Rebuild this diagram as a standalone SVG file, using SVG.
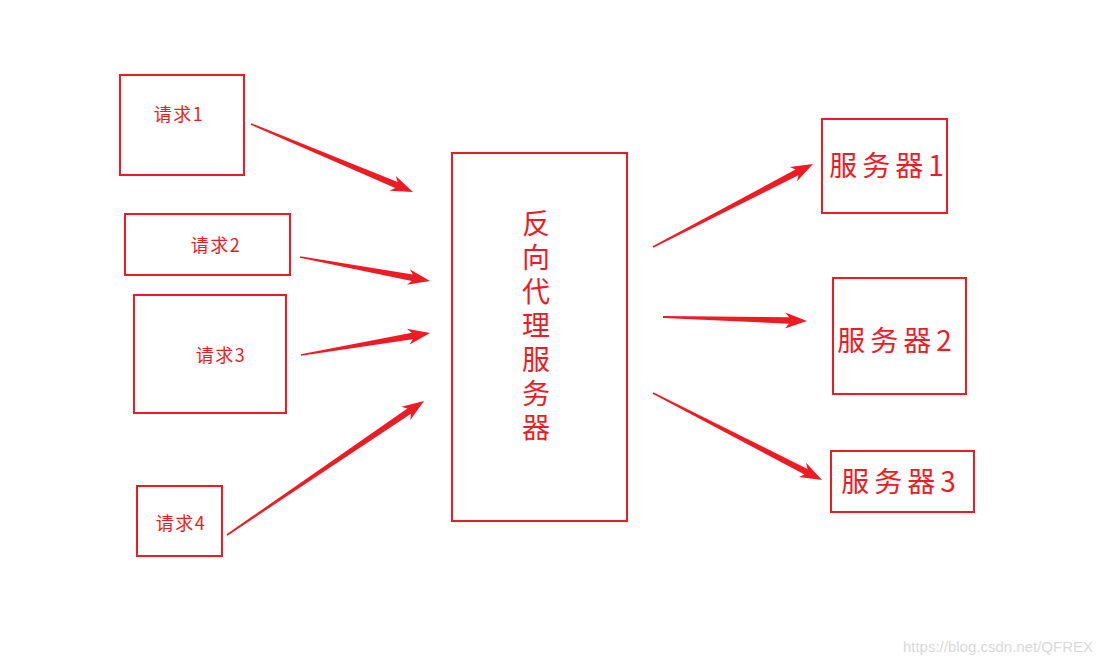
<svg xmlns="http://www.w3.org/2000/svg" width="1102" height="663" viewBox="0 0 1102 663">
<style>
.box{fill:none;stroke:#ed1c24;stroke-width:2}
.t{fill:#ed1c24;font-family:"Noto Sans CJK SC","Noto Sans",sans-serif;text-anchor:middle}
.s{font-size:18px;letter-spacing:1.5px}
.b{font-size:28px;letter-spacing:5px}
.v{font-size:28px;letter-spacing:6px;writing-mode:vertical-rl;text-anchor:start}
.arr{fill:#ed1c24}
.wm{fill:#d9d9d9;font-family:"Liberation Sans",Arial,sans-serif;font-size:15px;text-anchor:end}
</style>
<rect width="1102" height="663" fill="#ffffff"/>
<g id="req1"><rect class="box" x="120" y="75" width="124" height="100"/><text class="t s" x="179" y="121">请求1</text></g>
<g id="req2"><rect class="box" x="125" y="214" width="165" height="61"/><text class="t s" x="216" y="252">请求2</text></g>
<g id="req3"><rect class="box" x="134" y="295" width="152" height="118"/><text class="t s" x="221" y="362">请求3</text></g>
<g id="req4"><rect class="box" x="137" y="486" width="85" height="70"/><text class="t s" x="181" y="530">请求4</text></g>
<g id="proxy"><rect class="box" x="452" y="153" width="175" height="368"/>
<text class="t v" x="536" y="209">反向代理服务器</text>
</g>
<g id="srv1"><rect class="box" x="822" y="119" width="125" height="94"/><text class="t b" x="889" y="176">服务器1</text></g>
<g id="srv2"><rect class="box" x="833" y="278" width="133" height="116"/><text class="t b" x="897" y="351">服务器2</text></g>
<g id="srv3"><rect class="box" x="831" y="451" width="143" height="61"/><text class="t b" x="901" y="492">服务器3</text></g>
<g id="connectors">
<polygon class="arr" transform="translate(251,124) rotate(22.77)" points="0,-0.8 157.7,-3.2 153.7,-8 175.7,0 153.7,8 157.7,3.2 0,0.8"/>
<polygon class="arr" transform="translate(300,257) rotate(10.46)" points="0,-0.8 114.2,-3.2 110.2,-8 132.2,0 110.2,8 114.2,3.2 0,0.8"/>
<polygon class="arr" transform="translate(301,355) rotate(-9.68)" points="0,-0.8 112.9,-3.2 108.9,-8 130.9,0 108.9,8 112.9,3.2 0,0.8"/>
<polygon class="arr" transform="translate(227,535) rotate(-34.22)" points="0,-0.8 220.3,-3.2 216.3,-8 238.3,0 216.3,8 220.3,3.2 0,0.8"/>
<polygon class="arr" transform="translate(653,247) rotate(-27.42)" points="0,-0.8 162.2,-3.2 158.2,-8 180.2,0 158.2,8 162.2,3.2 0,0.8"/>
<polygon class="arr" transform="translate(663,317) rotate(1.59)" points="0,-1 126.1,-3.2 122.1,-8 144.1,0 122.1,8 126.1,3.2 0,1"/>
<polygon class="arr" transform="translate(653,393) rotate(27.24)" points="0,-0.8 172.1,-3.2 168.1,-8 190.1,0 168.1,8 172.1,3.2 0,0.8"/>
</g>
<text class="wm" x="1093" y="652">https://blog.csdn.net/QFREX</text>
</svg>
